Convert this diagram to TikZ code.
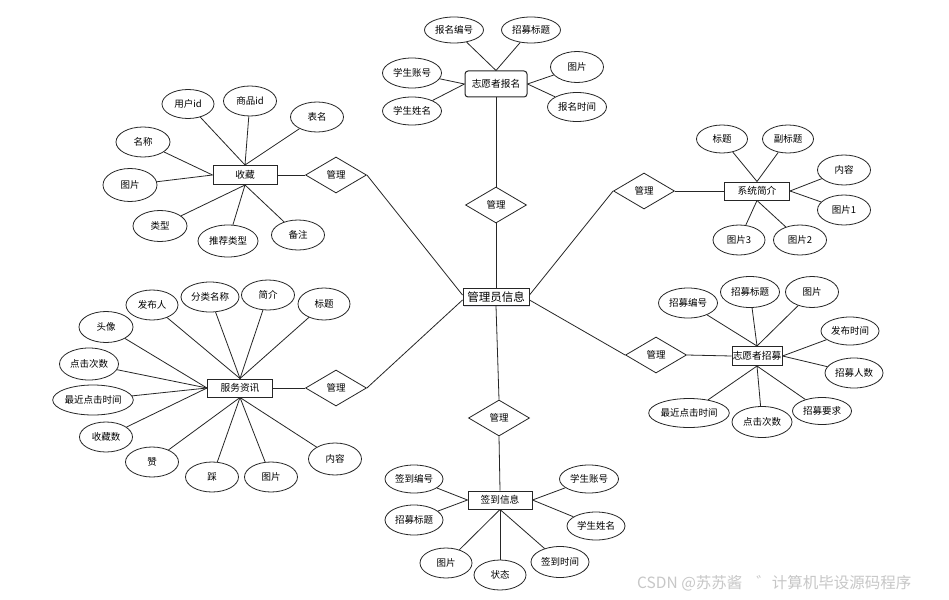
\documentclass[tikz,border=0pt]{standalone}
\usepackage{fontspec}
\newfontfamily\cjk{Noto Sans CJK SC}
\usetikzlibrary{shapes.geometric,shadows}
\begin{document}
\begin{tikzpicture}[x=1pt,y=-1pt,
  every node/.style={inner sep=0pt},
  attr/.style={ellipse, draw=black!85, line width=0.8pt, fill=white, minimum width=53pt, minimum height=30pt, font=\cjk\fontsize{9.5}{10}\selectfont},
  ent/.style={rectangle, draw=black!85, line width=1pt, fill=white, minimum height=18pt, font=\cjk\fontsize{9.7}{10}\selectfont},
  rel/.style={diamond, draw=black!85, line width=0.8pt, fill=white, aspect=1.7, minimum width=61pt, minimum height=36pt, font=\cjk\fontsize{9.5}{10}\selectfont},
  link/.style={draw=black!85, line width=0.8pt}
]
\fill[white] (0,0) rectangle (949,599);
\useasboundingbox (0,0) rectangle (949,599);

% centre
\node[ent, minimum width=66pt, minimum height=17pt, font=\cjk\fontsize{11.5}{12}\selectfont,
  drop shadow={shadow xshift=1.2pt, shadow yshift=-1.2pt, fill=blue!20!gray!40}] (c) at (496,297) {管理员信息};

% ---------- 志愿者报名 ----------
\node[ent, rounded corners=3pt, minimum width=62pt, minimum height=26pt] (e1) at (496,84) {志愿者报名};
\node[attr, minimum width=59pt, minimum height=26pt] (a11) at (454,30) {报名编号};
\node[attr, minimum width=59pt, minimum height=26pt] (a12) at (531,30) {招募标题};
\node[attr, minimum width=59pt, minimum height=30pt] (a13) at (412,73) {学生账号};
\node[attr, minimum width=59pt, minimum height=28pt] (a14) at (412,111) {学生姓名};
\node[attr, minimum width=53pt, minimum height=31pt] (a15) at (577,67) {图片};
\node[attr, minimum width=59pt, minimum height=29pt] (a16) at (577,107) {报名时间};
\node[rel] (d1) at (496,205) {管理};
\draw[link] (a11) -- (e1.north);
\draw[link] (a12) -- (e1.north);
\draw[link] (a13) -- (e1.west);
\draw[link] (a14) -- (e1.west);
\draw[link] (a15) -- (e1.east);
\draw[link] (a16) -- (e1.east);
\draw[link] (e1.south) -- (d1.north);
\draw[link] (d1.south) -- (c.north);

% ---------- 收藏 ----------
\node[ent, minimum width=64pt, minimum height=19pt] (e2) at (245,175) {收藏};
\node[attr, minimum width=52pt, minimum height=29pt] (a21) at (188,104) {用户id};
\node[attr, minimum width=53pt, minimum height=30pt] (a22) at (250,101) {商品id};
\node[attr, minimum width=53pt, minimum height=30pt] (a23) at (317,117) {表名};
\node[attr, minimum width=54pt, minimum height=30pt] (a24) at (143,142) {名称};
\node[attr, minimum width=54pt, minimum height=33pt] (a25) at (130,185) {图片};
\node[attr, minimum width=54pt, minimum height=31pt] (a26) at (160,226) {类型};
\node[attr, minimum width=60pt, minimum height=32pt] (a27) at (228,241) {推荐类型};
\node[attr, minimum width=53pt, minimum height=30pt] (a28) at (298,235) {备注};
\node[rel] (d2) at (336,175) {管理};
\draw[link] (a21) -- (e2.north);
\draw[link] (a22) -- (e2.north);
\draw[link] (a23) -- (e2.north);
\draw[link] (a24) -- (e2.west);
\draw[link] (a25) -- (e2.west);
\draw[link] (a26) -- (e2.south);
\draw[link] (a27) -- (e2.south);
\draw[link] (a28) -- (e2.south);
\draw[link] (e2.east) -- (d2.west);
\draw[link] (d2.east) -- ([yshift=2pt]c.west);

% ---------- 系统简介 ----------
\node[ent, minimum width=65pt, minimum height=18pt] (e3) at (757,191) {系统简介};
\node[attr, minimum width=51pt, minimum height=28pt] (a31) at (722,139) {标题};
\node[attr, minimum width=51pt, minimum height=28pt] (a32) at (788,139) {副标题};
\node[attr, minimum width=53pt, minimum height=30pt] (a33) at (844,170) {内容};
\node[attr, minimum width=53pt, minimum height=30pt] (a34) at (844,210) {图片1};
\node[attr, minimum width=52pt, minimum height=30pt] (a35) at (739,240) {图片3};
\node[attr, minimum width=53pt, minimum height=30pt] (a36) at (800,240) {图片2};
\node[rel] (d3) at (644,191) {管理};
\draw[link] (a31) -- (e3.north);
\draw[link] (a32) -- (e3.north);
\draw[link] (a33) -- (e3.east);
\draw[link] (a34) -- (e3.east);
\draw[link] (a35) -- (e3.south);
\draw[link] (a36) -- (e3.south);
\draw[link] (d3.east) -- (e3.west);
\draw[link] (d3.west) -- ([yshift=2pt]c.east);

% ---------- 服务资讯 ----------
\node[ent, minimum width=65pt, minimum height=18pt] (e4) at (240,388) {服务资讯};
\node[attr, minimum width=52pt, minimum height=30pt] (a41) at (152,305) {发布人};
\node[attr, minimum width=58pt, minimum height=30pt] (a42) at (210,297) {分类名称};
\node[attr, minimum width=53pt, minimum height=30pt] (a43) at (268,295) {简介};
\node[attr, minimum width=52pt, minimum height=32pt] (a44) at (324,304) {标题};
\node[attr, minimum width=54pt, minimum height=31pt] (a45) at (106,327) {头像};
\node[attr, minimum width=59pt, minimum height=32pt] (a46) at (89,364) {点击次数};
\node[attr, minimum width=79pt, minimum height=30pt] (a47) at (93,400) {最近点击时间};
\node[attr, minimum width=53pt, minimum height=30pt] (a48) at (106,437) {收藏数};
\node[attr, minimum width=53pt, minimum height=30pt] (a49) at (152,462) {赞};
\node[attr, minimum width=53pt, minimum height=30pt] (a410) at (212,477) {踩};
\node[attr, minimum width=53pt, minimum height=30pt] (a411) at (271,477) {图片};
\node[attr, minimum width=53pt, minimum height=32pt] (a412) at (335,459) {内容};
\node[rel] (d4) at (336,388) {管理};
\draw[link] (a41) -- (e4.north);
\draw[link] (a42) -- (e4.north);
\draw[link] (a43) -- (e4.north);
\draw[link] (a44) -- (e4.north);
\draw[link] (a45) -- (e4.west);
\draw[link] (a46) -- (e4.west);
\draw[link] (a47) -- (e4.west);
\draw[link] (a48) -- (e4.west);
\draw[link] (a49) -- (e4.south);
\draw[link] (a410) -- (e4.south);
\draw[link] (a411) -- (e4.south);
\draw[link] (a412) -- (e4.south);
\draw[link] (e4.east) -- (d4.west);
\draw[link] (d4.east) -- ([yshift=-3pt]c.west);

% ---------- 志愿者招募 ----------
\node[ent, minimum width=50pt, minimum height=19pt] (e5) at (757,356) {志愿者招募};
\node[attr, minimum width=59pt, minimum height=30pt] (a51) at (688,303) {招募编号};
\node[attr, minimum width=59pt, minimum height=31pt] (a52) at (750,292) {招募标题};
\node[attr, minimum width=53pt, minimum height=31pt] (a53) at (812,292) {图片};
\node[attr, minimum width=58pt, minimum height=28pt] (a54) at (850,331) {发布时间};
\node[attr, minimum width=58pt, minimum height=30pt] (a55) at (854,373) {招募人数};
\node[attr, minimum width=59pt, minimum height=27pt] (a56) at (822,411) {招募要求};
\node[attr, minimum width=60pt, minimum height=31pt] (a57) at (762,422) {点击次数};
\node[attr, minimum width=78pt, minimum height=29pt] (a58) at (689,413) {最近点击时间};
\node[rel] (d5) at (656,355) {管理};
\draw[link] (a51) -- (e5.north);
\draw[link] (a52) -- (e5.north);
\draw[link] (a53) -- (e5.north);
\draw[link] (a54) -- (e5.east);
\draw[link] (a55) -- (e5.east);
\draw[link] (a56) -- (e5.south);
\draw[link] (a57) -- (e5.south);
\draw[link] (a58) -- (e5.south);
\draw[link] (d5.east) -- (e5.west);
\draw[link] (d5.west) -- ([yshift=-3pt]c.east);

% ---------- 签到信息 ----------
\node[ent, minimum width=64pt, minimum height=18pt] (e6) at (500,500) {签到信息};
\node[attr, minimum width=58pt, minimum height=28pt] (a61) at (414,479) {签到编号};
\node[attr, minimum width=58pt, minimum height=30pt] (a62) at (414,520) {招募标题};
\node[attr, minimum width=59pt, minimum height=28pt] (a63) at (589,479) {学生账号};
\node[attr, minimum width=58pt, minimum height=28pt] (a64) at (596,526) {学生姓名};
\node[attr, minimum width=52pt, minimum height=30pt] (a65) at (446,563) {图片};
\node[attr, minimum width=52pt, minimum height=30pt] (a66) at (500,575) {状态};
\node[attr, minimum width=58pt, minimum height=31pt] (a67) at (560,562) {签到时间};
\node[rel] (d6) at (499,418) {管理};
\draw[link] (a61) -- (e6.west);
\draw[link] (a62) -- (e6.west);
\draw[link] (a63) -- (e6.east);
\draw[link] (a64) -- (e6.east);
\draw[link] (a65) -- (e6.south);
\draw[link] (a66) -- (e6.south);
\draw[link] (a67) -- (e6.south);
\draw[link] (c.south) -- (d6.north);
\draw[link] (d6.south) -- (e6.north);

% watermark
\node[anchor=west, text=black!22, font=\cjk\fontsize{15.5}{16}\selectfont] (wm) at (637,583) {CSDN @苏苏酱\hspace{14pt}゛计算机毕设源码程序};
\end{tikzpicture}
\end{document}
